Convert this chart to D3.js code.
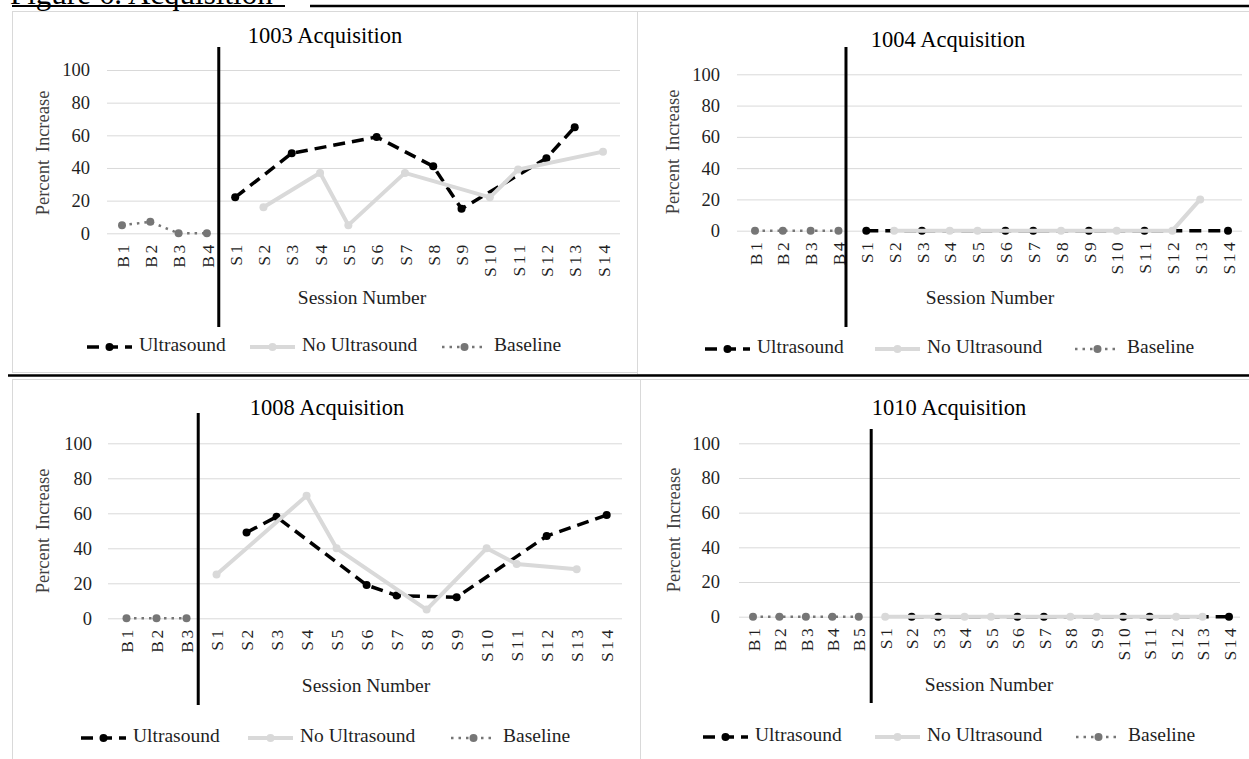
<!DOCTYPE html>
<html><head><meta charset="utf-8">
<script src="https://cdn.jsdelivr.net/npm/d3@7"></script>
<style>
body{margin:0;background:#fff;}
svg{display:block;}
text{font-family:"Liberation Serif","Times New Roman",serif;}
</style>
</head><body>
<svg id="c" width="1249" height="759"></svg>
<script>
// ---------- data ----------
const figureTitle = "Figure 6. Acquisition";
const yTicks = [0, 20, 40, 60, 80, 100];
const legendLabels = ["Ultrasound", "No Ultrasound", "Baseline"];
const sessions = ["S1","S2","S3","S4","S5","S6","S7","S8","S9","S10","S11","S12","S13","S14"];

// 1003
const base1003 = ["B1","B2","B3","B4"];
const baseVals1003 = [5, 7, 0, 0];
const usSess1003 = ["S1","S3","S6","S8","S9","S12","S13"];
const usVals1003 = [22, 49, 59, 41, 15, 46, 65];
const noSess1003 = ["S2","S4","S5","S7","S10","S11","S14"];
const noVals1003 = [16, 37, 5, 37, 22, 39, 50];

// 1004
const base1004 = ["B1","B2","B3","B4"];
const baseVals1004 = [0, 0, 0, 0];
const usSess1004 = ["S1","S3","S6","S7","S9","S11","S14"];
const usVals1004 = [0, 0, 0, 0, 0, 0, 0];
const noSess1004 = ["S2","S4","S5","S8","S10","S12","S13"];
const noVals1004 = [0, 0, 0, 0, 0, 0, 20];

// 1008
const base1008 = ["B1","B2","B3"];
const baseVals1008 = [0, 0, 0];
const usSess1008 = ["S2","S3","S6","S7","S9","S12","S14"];
const usVals1008 = [49, 58, 19, 13, 12, 47, 59];
const noSess1008 = ["S1","S4","S5","S8","S10","S11","S13"];
const noVals1008 = [25, 70, 40, 5, 40, 31, 28];

// 1010
const base1010 = ["B1","B2","B3","B4","B5"];
const baseVals1010 = [0, 0, 0, 0, 0];
const usSess1010 = ["S2","S3","S6","S7","S10","S11","S14"];
const usVals1010 = [0, 0, 0, 0, 0, 0, 0];
const noSess1010 = ["S1","S4","S5","S8","S9","S12","S13"];
const noVals1010 = [0, 0, 0, 0, 0, 0, 0];

// ---------- layout (positions only) ----------
const panels = [
  {title:"1003 Acquisition", base:base1003, baseVals:baseVals1003, usSess:usSess1003, usVals:usVals1003, noSess:noSess1003, noVals:noVals1003,
   box:[12,11,625,361], xr:[122,603], yr:[233.3,70], grid:[107,620], lblX:90, yTitle:[45,153], titlePos:[325,38],
   phaseFrac:0.42, phaseY:[47,327], xLblOff:9, xTitle:[362,300], legY:347, legX:[139,302,494]},
  {title:"1004 Acquisition", base:base1004, baseVals:baseVals1004, usSess:usSess1004, usVals:usVals1004, noSess:noSess1004, noVals:noVals1004,
   box:[637,11,620,363], xr:[755,1228], yr:[230.7,74.3], grid:[737,1242], lblX:720, yTitle:[675,152], titlePos:[948,42],
   phaseFrac:0.27, phaseY:[47,327], xLblOff:9, xTitle:[990,300], legY:349, legX:[757,927,1127]},
  {title:"1008 Acquisition", base:base1008, baseVals:baseVals1008, usSess:usSess1008, usVals:usVals1008, noSess:noSess1008, noVals:noVals1008,
   box:[12,379,628,390], xr:[126.5,606.7], yr:[618.3,443.3], grid:[108,622], lblX:92, yTitle:[45,531], titlePos:[327,410],
   phaseFrac:0.39, phaseY:[413,705], xLblOff:9, xTitle:[366,688], legY:738, legX:[133,300,503]},
  {title:"1010 Acquisition", base:base1010, baseVals:baseVals1010, usSess:usSess1010, usVals:usVals1010, noSess:noSess1010, noVals:noVals1010,
   box:[640,379,620,390], xr:[753,1229], yr:[616.7,443.3], grid:[739,1240], lblX:720, yTitle:[676,530], titlePos:[949,410],
   phaseFrac:0.47, phaseY:[429,703], xLblOff:9, xTitle:[989,687], legY:737, legX:[755,927,1128]}
];

const C_US = "#000000", C_NO = "#d9d9d9", C_BASE = "#767676", C_GRID = "#d9d9d9", C_TXT = "#1f1f1f";

const svg = d3.select("#c");
svg.append("rect").attr("width",1249).attr("height",759).attr("fill","#fff");

// figure heading (cut off at top, as in the source)
svg.append("text").attr("x",10).attr("y",4).attr("font-size",31).attr("fill","#000").text(figureTitle);

panels.forEach(p => {
  const g = svg.append("g");
  g.append("rect").attr("x",p.box[0]+0.5).attr("y",p.box[1]+0.5).attr("width",p.box[2]).attr("height",p.box[3])
    .attr("fill","#fff").attr("stroke","#d9d9d9").attr("stroke-width",1);

  const cats = p.base.concat(sessions);
  const x = d3.scalePoint().domain(cats).range(p.xr);
  const y = d3.scaleLinear().domain([0,100]).range(p.yr);

  // grid + y labels
  const ya = d3.axisLeft(y).tickValues(yTicks).tickSize(-(p.grid[1]-p.grid[0])).tickPadding(p.grid[0]-p.lblX);
  const yg = g.append("g").attr("transform",`translate(${p.grid[0]},0)`).call(ya);
  yg.select(".domain").remove();
  yg.selectAll(".tick line").attr("stroke",C_GRID).attr("stroke-width",1);
  yg.selectAll(".tick text").attr("font-size",18.5).attr("fill",C_TXT).attr("font-family","Liberation Serif");

  // x labels
  const xa = d3.axisBottom(x).tickSize(0);
  const xg = g.append("g").attr("transform",`translate(0,${y(0)})`).call(xa);
  xg.select(".domain").remove();
  xg.selectAll(".tick text").attr("font-size",17.5).attr("fill",C_TXT).attr("font-family","Liberation Serif")
    .attr("letter-spacing",2.5)
    .attr("transform","rotate(-90)").attr("x",-p.xLblOff).attr("y",0).attr("dy","0.35em").attr("text-anchor","end");

  const line = d3.line().x(d=>x(d[0])).y(d=>y(d[1]));
  const us = p.usSess.map((s,i)=>[s,p.usVals[i]]);
  const no = p.noSess.map((s,i)=>[s,p.noVals[i]]);
  const bs = p.base.map((s,i)=>[s,p.baseVals[i]]);

  // ultrasound
  g.append("path").datum(us).attr("d",line).attr("fill","none").attr("stroke",C_US).attr("stroke-width",3.5).attr("stroke-dasharray","12,7");
  g.selectAll(null).data(us).enter().append("circle").attr("cx",d=>x(d[0])).attr("cy",d=>y(d[1])).attr("r",4).attr("fill",C_US);
  // no ultrasound
  g.append("path").datum(no).attr("d",line).attr("fill","none").attr("stroke",C_NO).attr("stroke-width",4);
  g.selectAll(null).data(no).enter().append("circle").attr("cx",d=>x(d[0])).attr("cy",d=>y(d[1])).attr("r",4).attr("fill",C_NO);
  // baseline
  g.append("path").datum(bs).attr("d",line).attr("fill","none").attr("stroke",C_BASE).attr("stroke-width",2.5).attr("stroke-dasharray","2.5,5");
  g.selectAll(null).data(bs).enter().append("circle").attr("cx",d=>x(d[0])).attr("cy",d=>y(d[1])).attr("r",4).attr("fill",C_BASE);

  // phase change line
  const px = x(p.base[p.base.length-1]) + p.phaseFrac * x.step();
  g.append("line").attr("x1",px).attr("x2",px).attr("y1",p.phaseY[0]).attr("y2",p.phaseY[1]).attr("stroke","#000").attr("stroke-width",3);

  // titles
  g.append("text").attr("x",p.titlePos[0]).attr("y",p.titlePos[1]).attr("text-anchor","middle").attr("dominant-baseline","middle")
    .attr("font-size",22.5).attr("fill","#000").text(p.title);
  g.append("text").attr("transform",`translate(${p.yTitle[0]},${p.yTitle[1]}) rotate(-90)`).attr("text-anchor","middle").attr("dominant-baseline","middle")
    .attr("font-size",18.5).attr("word-spacing",3).attr("fill","#404040").text("Percent Increase");
  g.append("text").attr("x",p.xTitle[0]).attr("y",p.xTitle[1]).attr("text-anchor","middle").attr("dominant-baseline","middle")
    .attr("font-size",19.5).attr("fill",C_TXT).text("Session Number");

  // legend
  const styles = [
    {c:C_US, w:3.5, dash:"12,7"}, {c:C_NO, w:4, dash:null}, {c:C_BASE, w:2.5, dash:"2.5,5"}
  ];
  legendLabels.forEach((lab,i)=>{
    const tx = p.legX[i], sx1 = tx-52, sx2 = tx-7, st = styles[i];
    const l = g.append("line").attr("x1",sx1).attr("x2",sx2).attr("y1",p.legY).attr("y2",p.legY).attr("stroke",st.c).attr("stroke-width",st.w);
    if (st.dash) l.attr("stroke-dasharray",st.dash);
    g.append("circle").attr("cx",(sx1+sx2)/2).attr("cy",p.legY).attr("r",4).attr("fill",st.c);
    g.append("text").attr("x",tx).attr("y",p.legY).attr("dominant-baseline","middle").attr("font-size",19.5).attr("fill",C_TXT).text(lab);
  });
});

// separators
svg.append("line").attr("x1",12).attr("x2",285).attr("y1",6).attr("y2",6).attr("stroke","#000").attr("stroke-width",2);
svg.append("line").attr("x1",310).attr("x2",1249).attr("y1",6).attr("y2",6).attr("stroke","#000").attr("stroke-width",2.5);
svg.append("line").attr("x1",8).attr("x2",1249).attr("y1",375.5).attr("y2",375.5).attr("stroke","#000").attr("stroke-width",2.5);
</script>
</body></html>
